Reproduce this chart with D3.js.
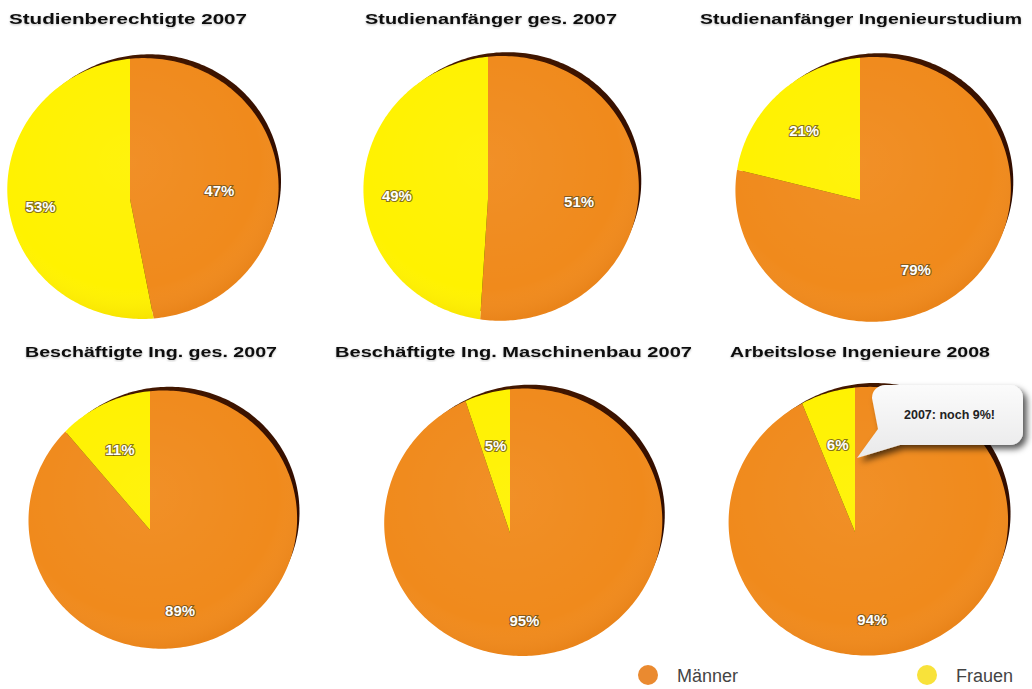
<!DOCTYPE html>
<html>
<head>
<meta charset="utf-8">
<script src="https://cdn.jsdelivr.net/npm/d3@7"></script>
<style>
  html, body { margin: 0; padding: 0; background: #fff; }
  svg { display: block; }
  text { font-family: "Liberation Sans", Arial, Helvetica, sans-serif; }
</style>
</head>
<body>
<svg id="viz_pies"></svg>
<script>
// data
var titles = [
    "Studienberechtigte 2007",
    "Studienanfänger ges. 2007",
    "Studienanfänger Ingenieurstudium",
    "Beschäftigte Ing. ges. 2007",
    "Beschäftigte Ing. Maschinenbau 2007",
    "Arbeitslose Ingenieure 2008"
];
var maenner = [47, 51, 79, 89, 95, 94];
var frauen = [53, 49, 21, 11, 5, 6];
var series = ["Männer", "Frauen"];
var calloutText = "2007: noch 9%!";
var calloutPie = 5;

// layout (pie centre, scale, title placement)
var layout = [
    {"x": 130, "y": 199, "s": 1.0,   "tx": 9,   "ty": 24,  "tw": 238},
    {"x": 488, "y": 199, "s": 1.015, "tx": 365, "ty": 24,  "tw": 252},
    {"x": 860, "y": 200, "s": 1.015, "tx": 700, "ty": 24,  "tw": 322},
    {"x": 150, "y": 530, "s": 0.99,  "tx": 25,  "ty": 357, "tw": 252},
    {"x": 510, "y": 533, "s": 1.025, "tx": 335, "ty": 357, "tw": 357},
    {"x": 855, "y": 532, "s": 1.03,  "tx": 730, "ty": 357, "tw": 260}
];

var width = 1032,
    height = 689,
    rx = 134,
    ry = 129,
    persp_x = 0.095,
    persp_y = 0.08,
    orange = "#f08a1c",
    yellow = "#fff200",
    colors = {"Männer": orange, "Frauen": yellow};

var svg = d3.select("svg#viz_pies")
    .attr("width", width)
    .attr("height", height);

var defs = svg.append("defs");

var shade = defs.append("radialGradient")
    .attr("id", "shade")
    .attr("cx", "45%").attr("cy", "40%").attr("r", "60%");
shade.append("stop").attr("offset", "0%").attr("stop-color", "#fff").attr("stop-opacity", 0.05);
shade.append("stop").attr("offset", "80%").attr("stop-color", "#fff").attr("stop-opacity", 0);
shade.append("stop").attr("offset", "100%").attr("stop-color", "#a04000").attr("stop-opacity", 0.08);

var rimGrad = defs.append("linearGradient")
    .attr("id", "rim")
    .attr("x1", "0%").attr("y1", "0%").attr("x2", "100%").attr("y2", "100%");
rimGrad.append("stop").attr("offset", "0%").attr("stop-color", "#4a1c00");
rimGrad.append("stop").attr("offset", "100%").attr("stop-color", "#2a0800");

var bubbleGrad = defs.append("linearGradient")
    .attr("id", "bubble")
    .attr("x1", "0%").attr("y1", "0%").attr("x2", "0%").attr("y2", "100%");
bubbleGrad.append("stop").attr("offset", "0%").attr("stop-color", "#fbfbfb");
bubbleGrad.append("stop").attr("offset", "100%").attr("stop-color", "#e9e9ea");

var drop = defs.append("filter")
    .attr("id", "drop")
    .attr("x", "-20%").attr("y", "-20%").attr("width", "150%").attr("height", "160%");
drop.append("feDropShadow")
    .attr("dx", 4).attr("dy", 4).attr("stdDeviation", 3)
    .attr("flood-color", "#000").attr("flood-opacity", 0.65);

var titleBlur = defs.append("filter").attr("id", "tshadow");
titleBlur.append("feDropShadow")
    .attr("dx", 0).attr("dy", 1).attr("stdDeviation", 1.2)
    .attr("flood-color", "#000").attr("flood-opacity", 0.25);

// tilted disc: unit circle point -> screen, with a little perspective
function project(L, u, v) {
    var w = 1 - persp_x * u + persp_y * v;
    return [L.x + L.s * rx * u / w, L.y + L.s * ry * v / w];
}

function ring(L, a0, a1, k, du, dv) {
    var n = Math.max(8, Math.ceil((a1 - a0) / 0.02)),
        pts = [];
    for (var i = 0; i <= n; i++) {
        var a = a0 + (a1 - a0) * i / n;
        pts.push(project(L, k * Math.sin(a) + du, -k * Math.cos(a) + dv));
    }
    return pts;
}

var line = d3.line().curve(d3.curveLinearClosed);

var pie = d3.pie()
    .sort(null)
    .value(function(d) { return d.value; });

var pieData = titles.map(function(t, i) {
    return {
        "title": t,
        "layout": layout[i],
        "slices": [
            {"name": series[0], "value": maenner[i]},
            {"name": series[1], "value": frauen[i]}
        ]
    };
});

var pie_g = svg.selectAll("g.pie")
    .data(pieData)
    .enter()
    .append("g")
        .attr("class", "pie");

pie_g.append("text")
    .attr("class", "title")
    .attr("x", function(d) { return d.layout.tx; })
    .attr("y", function(d) { return d.layout.ty; })
    .attr("textLength", function(d) { return d.layout.tw; })
    .attr("lengthAdjust", "spacingAndGlyphs")
    .attr("filter", "url(#tshadow)")
    .style("font-size", "15.5px")
    .style("font-weight", "bold")
    .style("fill", "#111")
    .text(function(d) { return d.title; });

// dark edge of the disc, peeking out top right
pie_g.append("path")
    .attr("class", "rim")
    .attr("d", function(d) {
        return line(ring(d.layout, 0, 2 * Math.PI, 0.975, 0.036, -0.046));
    })
    .style("fill", "url(#rim)");

pie_g.selectAll("path.arc")
    .data(function(d) {
        return pie(d.slices).map(function(a) { a.layout = d.layout; return a; });
    })
    .enter()
    .append("path")
        .attr("class", "arc")
        .attr("d", function(d) {
            var pts = ring(d.layout, d.startAngle, d.endAngle, 1, 0, 0);
            pts.unshift(project(d.layout, 0, 0));
            return line(pts);
        })
        .style("fill", function(d) { return colors[d.data.name]; });

pie_g.append("path")
    .attr("class", "shade")
    .attr("d", function(d) {
        return line(ring(d.layout, 0, 2 * Math.PI, 1, 0, 0));
    })
    .style("fill", "url(#shade)")
    .style("pointer-events", "none");

pie_g.selectAll("text.pct")
    .data(function(d) {
        return pie(d.slices).map(function(a) { a.layout = d.layout; return a; });
    })
    .enter()
    .append("text")
        .attr("class", "pct")
        .attr("x", function(d) {
            var a = (d.startAngle + d.endAngle) / 2;
            return d.layout.x + 0.67 * d.layout.s * rx * Math.sin(a);
        })
        .attr("y", function(d) {
            var a = (d.startAngle + d.endAngle) / 2;
            return d.layout.y - 0.67 * d.layout.s * ry * Math.cos(a);
        })
        .attr("dy", "0.35em")
        .attr("text-anchor", "middle")
        .style("font-size", "15px")
        .style("font-weight", "bold")
        .style("fill", "#fff")
        .style("stroke", "rgba(95,75,30,0.75)")
        .style("stroke-width", 2.2)
        .style("paint-order", "stroke")
        .text(function(d) { return d.data.value + "%"; });

// speech bubble on the last pie
var L = layout[calloutPie],
    bx = L.x + 17, by = L.y - 147, bw = 151, bh = 60, br = 13,
    tip = [L.x + 2, L.y - 74];

var bubble_g = svg.append("g")
    .attr("class", "callout")
    .attr("filter", "url(#drop)");

var bp = d3.path();
bp.moveTo(bx + br, by);
bp.lineTo(bx + bw - br, by);
bp.arcTo(bx + bw, by, bx + bw, by + br, br);
bp.lineTo(bx + bw, by + bh - br);
bp.arcTo(bx + bw, by + bh, bx + bw - br, by + bh, br);
bp.lineTo(bx + 28, by + bh);
bp.lineTo(tip[0], tip[1]);
bp.lineTo(bx + 6, by + bh - 16);
bp.lineTo(bx, by + br);
bp.arcTo(bx, by, bx + br, by, br);
bp.closePath();

bubble_g.append("path")
    .attr("d", bp.toString())
    .style("fill", "url(#bubble)");

svg.append("text")
    .attr("x", bx + bw / 2 + 2)
    .attr("y", by + bh / 2)
    .attr("dy", "0.35em")
    .attr("text-anchor", "middle")
    .style("font-size", "12.5px")
    .style("font-weight", "bold")
    .style("fill", "#222")
    .text(calloutText);

// legend
var legendX = [648, 927];
var legend_g = svg.selectAll("g.legend_label")
    .data(series)
    .enter()
    .append("g")
        .attr("class", "legend_label")
        .attr("transform", function(d, i) {
            return "translate(" + [legendX[i], 675] + ")";
        });

legend_g.append("circle")
    .attr("r", 10)
    .style("fill", function(d) { return d === "Männer" ? "#ea8a30" : "#f8e23a"; });

legend_g.append("text")
    .attr("x", 29)
    .attr("y", 7)
    .style("font-size", "18px")
    .style("fill", "#444")
    .text(function(d) { return d; });
</script>
</body>
</html>
